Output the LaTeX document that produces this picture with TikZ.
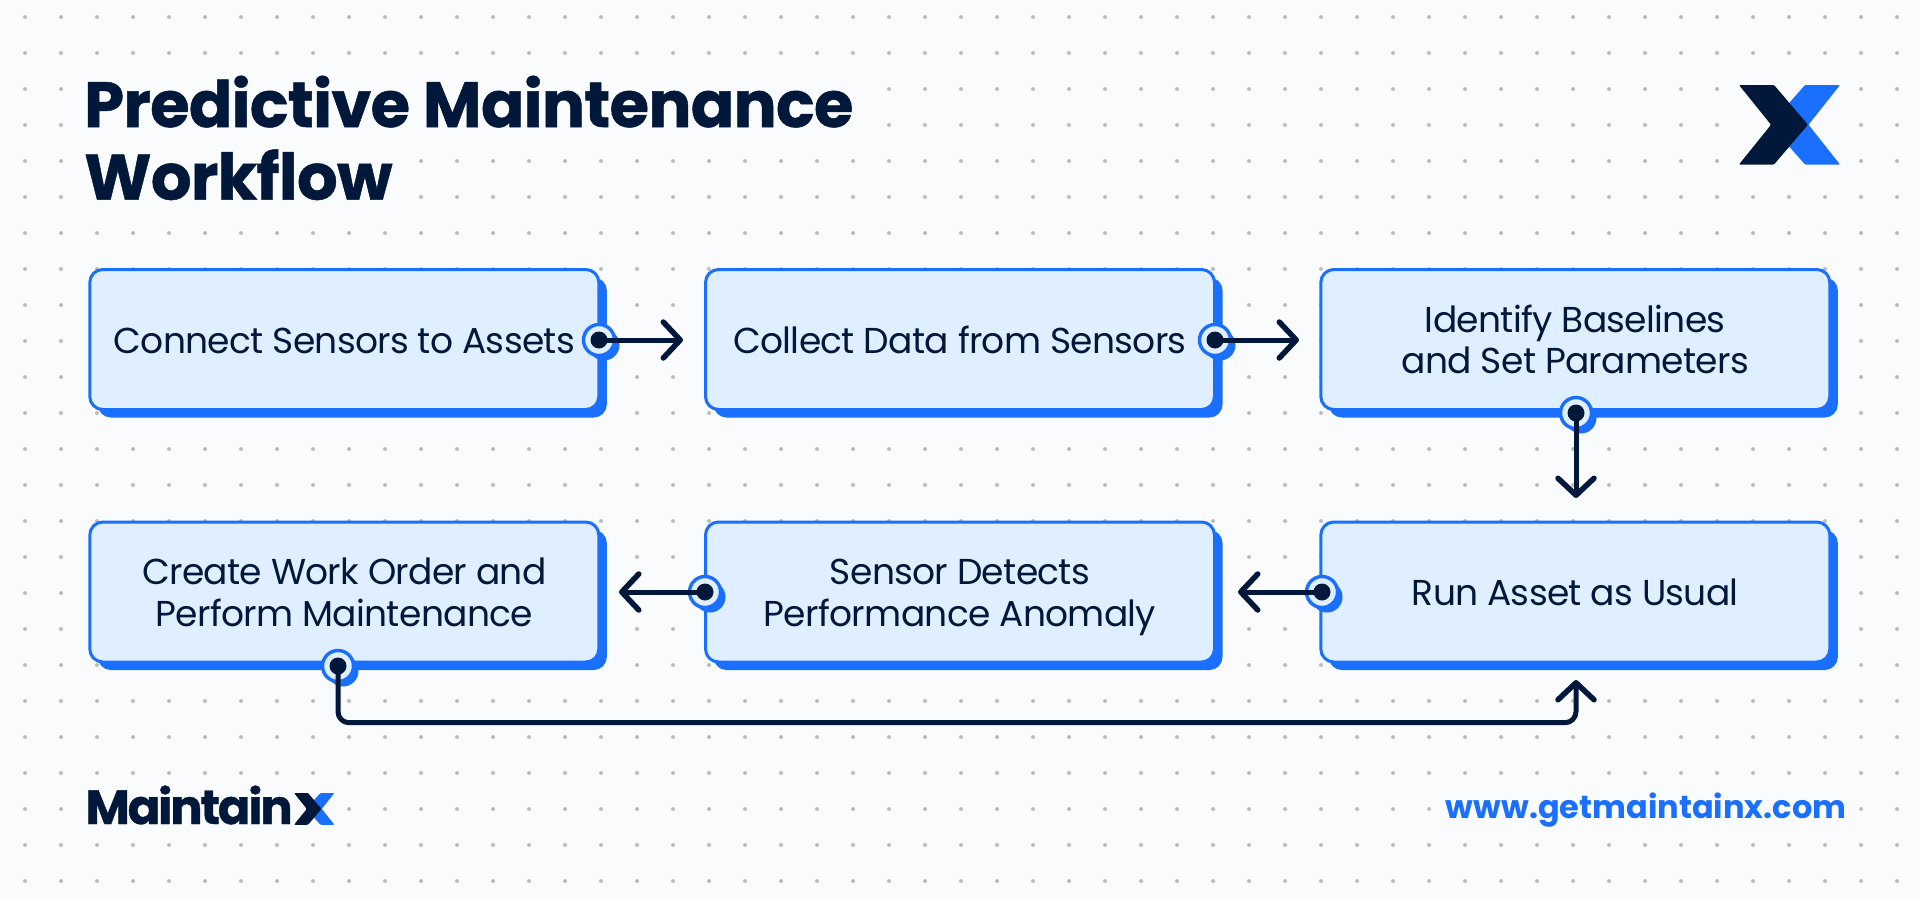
\documentclass[tikz,border=0pt]{standalone}
\usepackage{fontspec}
\setmainfont{Poppins}
\newfontfamily\boxfont[LetterSpace=-1.9]{Poppins}
\newfontfamily\titlefont[LetterSpace=-1.1,BoldFont={Poppins Bold},BoldFeatures={FakeBold=0.8}]{Poppins}
\newfontfamily\brandfont[LetterSpace=-4.4,BoldFont={Poppins Bold},BoldFeatures={FakeBold=0.8}]{Poppins}
\usetikzlibrary{arrows.meta,shadows,positioning}
\definecolor{bgc}{HTML}{FAFBFD}
\definecolor{dark}{HTML}{02183A}
\definecolor{acc}{HTML}{1A6FFF}
\definecolor{boxc}{HTML}{DFEFFF}
\definecolor{dotc}{HTML}{BDBDBD}
\newif\ifdotshown
\newcommand{\xlogo}{%
  \fill[acc,rounded corners=1pt] (66,0) -- (101,0) -- (69.5,39.7) -- (101,79.5) -- (66,79.5) -- (31,39.7) -- cycle;
  \fill[dark,rounded corners=1pt] (0,0) -- (35,0) -- (69,39.7) -- (35,79.5) -- (0,79.5) -- (32,39.7) -- cycle;
}
\tikzset{
  stepbox/.style={draw=acc,line width=3pt,fill=boxc,rounded corners=13pt,
    minimum width=509pt,minimum height=140pt,inner sep=0pt,text=dark,
    font=\fontsize{36}{41.5}\boxfont,align=center,
    general shadow={fill=acc,shadow xshift=8pt,shadow yshift=-8pt}},
  oneline/.style={text height=27.4pt,text depth=0pt},
  twoline/.style={text height=68pt,text depth=0pt},
  ringmark/.style={circle,draw=acc,line width=3.4pt,fill=boxc,minimum size=31pt,inner sep=0pt,
    general shadow={fill=acc,shadow xshift=5pt,shadow yshift=-5pt}},
  pindot/.style={circle,fill=dark,minimum size=17pt,inner sep=0pt},
  conn/.style={draw=dark,line width=5pt,line cap=round,line join=round,
    -{Straight Barb[length=17pt,width=36pt,line width=5.5pt,line cap=round,line join=round]}},
  titletext/.style={font=\fontsize{64}{72}\titlefont\bfseries,text=dark,inner sep=0pt},
}
\begin{document}
\begin{tikzpicture}[x=1pt,y=-1pt]
\useasboundingbox (0,0) rectangle (1920,900);
\fill[bgc] (0,0) rectangle (1920,900);
\foreach \i in {0,...,52}{\foreach \j in {0,...,24}{
  \dotshowntrue
  \ifnum\j>1 \ifnum\j<4 \ifnum\i>1 \ifnum\i<24 \dotshownfalse\fi\fi\fi\fi
  \ifnum\j>3 \ifnum\j<6 \ifnum\i>1 \ifnum\i<11 \dotshownfalse\fi\fi\fi\fi
  \ifnum\j>1 \ifnum\j<5 \ifnum\i>47 \ifnum\i<51 \dotshownfalse\fi\fi\fi\fi
  \ifnum\j=22 \ifnum\i>1 \ifnum\i<9 \dotshownfalse\fi\fi\fi
  \ifnum\j=22 \ifnum\i>39 \ifnum\i<51 \dotshownfalse\fi\fi\fi
  \ifdotshown \fill[dotc] ({25+36*\i},{17+36*\j}) circle[radius=2pt]; \fi
}}
% title
\node[titletext,anchor=base west] (t1) at (84,127) {Predictive Maintenance};
\node[titletext,anchor=base west] (t2) at (84,199.6) {Workflow};
% logo
\begin{scope}[shift={(1739,85)}]\xlogo\end{scope}
% boxes
\node[stepbox,oneline] (b1) at (344.3,339.5) {Connect Sensors to Assets};
\node[stepbox,oneline] (b2) at (960,339.5) {Collect Data from Sensors};
\node[stepbox,twoline] (b3) at (1575.3,339.5) {Identify Baselines\\and Set Parameters};
\node[stepbox,oneline] (b4) at (1575.3,592) {Run Asset as Usual};
\node[stepbox,twoline] (b5) at (960,592) {Sensor Detects\\Performance Anomaly};
\node[stepbox,twoline] (b6) at (344.3,592) {Create Work Order and\\Perform Maintenance};
% markers
\node[ringmark] (m1) at (599,340) {};
\node[ringmark] (m2) at (1215,340) {};
\node[ringmark] (m3) at (1576,413) {};
\node[ringmark] (m4) at (1322,592) {};
\node[ringmark] (m5) at (705,592) {};
\node[ringmark] (m6) at (338,666) {};
\node[pindot] (d1) at (m1) {};
\node[pindot] (d2) at (m2) {};
\node[pindot] (d3) at (m3) {};
\node[pindot] (d4) at (m4) {};
\node[pindot] (d5) at (m5) {};
\node[pindot] (d6) at (m6) {};
% connectors
\coordinate (e1) at (683,340);
\coordinate (e2) at (1299,340);
\coordinate (e3) at (1576,498);
\coordinate (e4) at (1238,592);
\coordinate (e5) at (619,592);
\coordinate (e6) at (1576,680);
\coordinate (c6) at (1576,722.7);
\draw[conn] (d1.center) -- (e1);
\draw[conn] (d2.center) -- (e2);
\draw[conn] (d3.center) -- (e3);
\draw[conn] (d4.center) -- (e4);
\draw[conn] (d5.center) -- (e5);
\draw[conn,rounded corners=11pt] (d6.center) |- (c6) -- (e6);
% footer
\node[anchor=base west,inner sep=0pt,text=dark,font=\fontsize{48}{50}\brandfont\bfseries] (brand) at (85.5,824) {Maintain};
\begin{scope}[shift={(294,793)},scale=0.4]\xlogo\end{scope}
\node[anchor=base east,inner sep=0pt,text=acc,font=\fontsize{32}{32}\selectfont\bfseries] (url) at (1846.5,818.5) {www.getmaintainx.com};
\end{tikzpicture}
\end{document}
